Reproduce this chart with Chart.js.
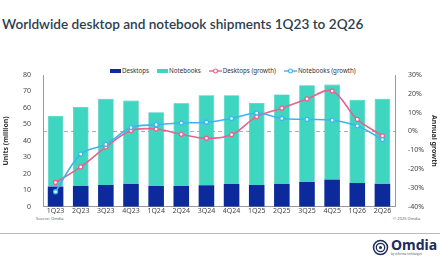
<!DOCTYPE html>
<html>
<head>
<meta charset="utf-8">
<script src="https://cdn.jsdelivr.net/npm/chart.js@4"></script>
<style>
  body { margin: 0; width: 440px; height: 264px; background: #fff; position: relative; overflow: hidden; font-family: "Noto Sans", sans-serif; }
  #title { position: absolute; left: 2px; top: 16px; font-family: Lato, sans-serif; font-size: 13.6px; font-weight: 600; color: #2c3e50; white-space: nowrap; }
  #wrap { position: absolute; left: 0; top: 65px; width: 440px; height: 151px; }
  #legend { position: absolute; top: 66px; left: 110px; font-size: 6.2px; color: #333; display: flex; gap: 8px; align-items: center; white-space: nowrap; }
  #legend span { display: inline-flex; align-items: center; gap: 1px; }
  .sw { display: inline-block; width: 11px; height: 4px; }
  #src { position: absolute; left: 36px; top: 216px; font-size: 4px; color: #666; }
  #copy { position: absolute; left: 393px; top: 216px; font-size: 4px; color: #666; }
  #rule { position: absolute; left: 0; top: 233px; width: 440px; height: 1px; background: #bbb; }
  #logo { position: absolute; left: 372px; top: 238px; display: flex; align-items: center; gap: 2px; }
  #logo .name { font-family: "Noto Sans", sans-serif; font-weight: 700; font-size: 14px; color: #1d2a5a; line-height: 14px; }
  #logo .by { font-size: 3px; color: #556; line-height: 4px; }
</style>
</head>
<body>
<div id="title">Worldwide desktop and notebook shipments 1Q23 to 2Q26</div>
<div id="legend">
  <span><i class="sw" style="background:#0c2a9c"></i>Desktops</span>
  <span><i class="sw" style="background:#3fd6c1"></i>Notebooks</span>
  <span><svg width="13" height="6"><line x1="0" y1="3" x2="13" y2="3" stroke="#e8628f" stroke-width="1.4"/><circle cx="6.5" cy="3" r="2" fill="#fff" stroke="#e8628f" stroke-width="1.2"/></svg>Desktops (growth)</span>
  <span><svg width="13" height="6"><line x1="0" y1="3" x2="13" y2="3" stroke="#3cb5ef" stroke-width="1.4"/><circle cx="6.5" cy="3" r="2" fill="#fff" stroke="#3cb5ef" stroke-width="1.2"/></svg>Notebooks (growth)</span>
</div>
<div id="wrap"><canvas id="c"></canvas></div>
<div id="src">Source: Omdia</div>
<div id="copy">© 2025 Omdia</div>
<div id="rule"></div>
<div id="logo">
  <svg width="17" height="17"><circle cx="8.5" cy="8.5" r="7" fill="none" stroke="#1d2a5a" stroke-width="1.5"/><circle cx="8.5" cy="8.5" r="4.2" fill="none" stroke="#1d2a5a" stroke-width="1.3"/><circle cx="8.5" cy="8.5" r="1.5" fill="#1d2a5a"/></svg>
  <div><div class="name">Omdia</div><div class="by">by informa techtarget</div></div>
</div>
<script>
const quarters = ["1Q23", "2Q23", "3Q23", "4Q23", "1Q24", "2Q24", "3Q24", "4Q24", "1Q25", "2Q25", "3Q25", "4Q25", "1Q26", "2Q26"];
const desktops = [12.3, 12.7, 13.3, 14.0, 12.7, 12.7, 13.1, 13.8, 13.3, 14.0, 15.0, 16.6, 14.4, 14.0];
const notebooks = [43.0, 47.9, 52.3, 50.5, 44.7, 50.1, 54.6, 53.9, 49.7, 54.2, 58.8, 57.6, 50.6, 51.6];
const desktopGrowth = [-27.1, -18.8, -8.3, 0.5, 1.3, -1.5, -3.6, -1.7, 7.9, 12.4, 17.3, 21.5, 6.4, -2.3];
const notebookGrowth = [-32.0, -12.0, -6.8, 2.1, 3.6, 4.5, 4.9, 6.9, 9.8, 6.9, 6.4, 6.0, 3.0, -4.3];

const tickFont = { family: "Noto Sans", size: 7 };

// dashed reference line at 0% growth
const zeroLine = {
  id: "zeroLine",
  beforeDatasetsDraw(chart) {
    const y = chart.scales.y1.getPixelForValue(0);
    const a = chart.chartArea;
    const ctx = chart.ctx;
    ctx.save();
    ctx.strokeStyle = "#999";
    ctx.lineWidth = 0.8;
    ctx.setLineDash([4, 3]);
    ctx.beginPath();
    ctx.moveTo(a.left, y);
    ctx.lineTo(a.right, y);
    ctx.stroke();
    ctx.restore();
  }
};

new Chart(document.getElementById("c"), {
  type: "bar",
  data: {
    labels: quarters,
    datasets: [
      { type: "line", label: "Desktops (growth)", data: desktopGrowth, yAxisID: "y1", borderColor: "#e8628f", backgroundColor: "#fff", borderWidth: 1.6, pointRadius: 2, pointBorderWidth: 1.3, tension: 0.35, order: 1 },
      { type: "line", label: "Notebooks (growth)", data: notebookGrowth, yAxisID: "y1", borderColor: "#3cb5ef", backgroundColor: "#fff", borderWidth: 1.6, pointRadius: 2, pointBorderWidth: 1.3, tension: 0.35, order: 0 },
      { label: "Desktops", data: desktops, backgroundColor: "#0c2a9c", stack: "s", order: 2 },
      { label: "Notebooks", data: notebooks, backgroundColor: "#3fd6c1", borderColor: "#2fb8a6", borderWidth: { top: 0.6, left: 0.6, right: 0.6, bottom: 0 }, stack: "s", order: 3 }
    ]
  },
  options: {
    responsive: true,
    maintainAspectRatio: false,
    animation: false,
    layout: { padding: { top: 10, left: 0, right: 0, bottom: 0 } },
    plugins: { legend: { display: false }, tooltip: { enabled: false } },
    datasets: { bar: { categoryPercentage: 1, barPercentage: 0.62 } },
    scales: {
      x: {
        stacked: true,
        grid: { display: false, drawTicks: false },
        border: { color: "#999" },
        ticks: { font: tickFont, color: "#444", maxRotation: 0, padding: 0 }
      },
      y: {
        stacked: true,
        min: 0, max: 80,
        ticks: { stepSize: 10, font: tickFont, color: "#444", padding: 4 },
        grid: { display: false },
        border: { color: "#999" },
        title: { display: true, text: "Units (million)", font: { family: "Noto Sans", size: 7, weight: "bold" }, color: "#333", padding: 2 },
        afterFit(s) { s.width = 43; }
      },
      y1: {
        position: "right",
        min: -40, max: 30,
        ticks: { stepSize: 10, font: tickFont, color: "#444", padding: 5, callback: v => v + "%" },
        grid: { display: false },
        border: { color: "#999" },
        title: { display: true, text: "Annual growth", font: { family: "Noto Sans", size: 7, weight: "bold" }, color: "#333", padding: 2 },
        afterFit(s) { s.width = 45; }
      }
    }
  },
  plugins: [zeroLine]
});
</script>
</body>
</html>
